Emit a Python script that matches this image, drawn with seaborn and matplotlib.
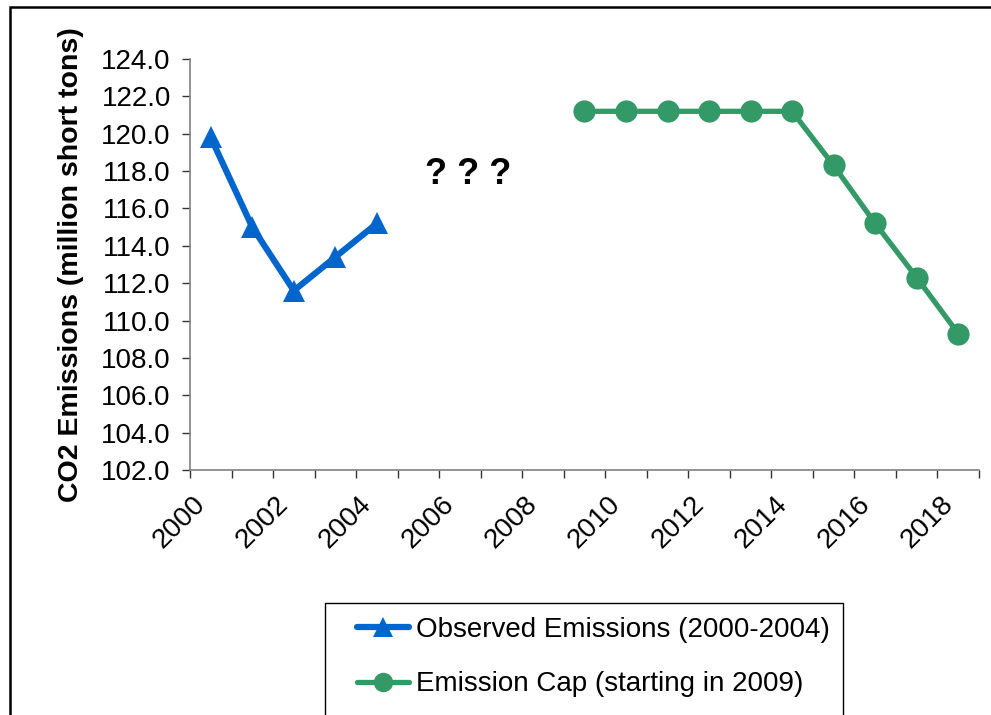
import matplotlib
matplotlib.use('Agg')
import matplotlib.pyplot as plt
import matplotlib.patches as mpatches
from matplotlib.ticker import FixedLocator, FormatStrFormatter
import numpy as np
import pandas as pd
import seaborn as sns

# data
observed_years = [2000, 2001, 2002, 2003, 2004]
observed_values = [119.8, 115.0, 111.6, 113.4, 115.2]
cap_years = [2009, 2010, 2011, 2012, 2013, 2014, 2015, 2016, 2017, 2018]
cap_values = [121.2, 121.2, 121.2, 121.2, 121.2, 121.2, 118.3, 115.2, 112.3, 109.3]
label_years = list(range(2000, 2019, 2))
y_ticks = list(np.arange(102, 124.1, 2))

observed_label = 'Observed Emissions (2000-2004)'
cap_label = 'Emission Cap (starting in 2009)'
blue = '#0066CC'
green = '#339966'

sns.set_theme(style='white')
plt.rcParams['font.family'] = ['Liberation Sans', 'DejaVu Sans']
plt.rcParams['text.color'] = 'black'
plt.rcParams['axes.labelcolor'] = 'black'
plt.rcParams['xtick.labelcolor'] = 'black'
plt.rcParams['ytick.labelcolor'] = 'black'

W, H = 991, 715
fig = plt.figure(figsize=(W / 100, H / 100), dpi=100)
ax = fig.add_axes([190 / W, 1 - 470 / H, (979 - 190) / W, (470 - 59) / H])

obs_df = pd.DataFrame({'year': observed_years, 'value': observed_values})
cap_df = pd.DataFrame({'year': cap_years, 'value': cap_values})

sns.lineplot(data=obs_df, x='year', y='value', ax=ax, color=blue, linewidth=4.5,
             marker='^', markersize=16, markeredgewidth=0, label=observed_label)
sns.lineplot(data=cap_df, x='year', y='value', ax=ax, color=green, linewidth=3.8,
             marker='o', markersize=16, markeredgewidth=0, label=cap_label)

ax.set_xlim(1999.5, 2018.5)
ax.set_ylim(102, 124)

# category labels at centres, tick marks at category boundaries
ax.xaxis.set_major_locator(FixedLocator(label_years))
ax.xaxis.set_minor_locator(FixedLocator(np.arange(1999.5, 2019, 1)))
ax.set_xticklabels([str(y) for y in label_years], rotation=45, ha='right', fontsize=20)
ax.tick_params(axis='x', which='major', length=0, pad=15)
ax.tick_params(axis='x', which='minor', bottom=True, length=5.8, width=1, color='#333333', direction='out')

ax.set_yticks(y_ticks)
ax.yaxis.set_major_formatter(FormatStrFormatter('%.1f'))
ax.tick_params(axis='y', left=True, length=5.8, width=1, color='#333333', direction='out', labelsize=20, pad=8)

for side in ['top', 'right']:
    ax.spines[side].set_visible(False)
for side in ['left', 'bottom']:
    ax.spines[side].set_color('#808080')
    ax.spines[side].set_linewidth(1.2)

ax.set_xlabel('')
ax.set_ylabel('CO2 Emissions (million short tons)', fontsize=20.5, fontweight='bold')
ax.yaxis.set_label_coords(-106 / (979 - 190), 0.5)

ax.text(2006.2, 117.8, '? ? ?', fontsize=26, fontweight='bold', ha='center', va='center')

# legend with own frame
leg = ax.legend(loc='upper left', bbox_to_anchor=(357 / W, 1 - 617 / H), bbox_transform=fig.transFigure,
                frameon=False, fontsize=20, handlelength=1.87, handletextpad=0.25,
                labelspacing=1.02, borderpad=0, borderaxespad=0)
for h in leg.legend_handles:
    h.set_markersize(14)

fig.patches.append(mpatches.Rectangle((325 / W, -0.01), (843 - 325) / W, (0.01 + 1 - 602.5 / H),
                                      transform=fig.transFigure, fill=False, edgecolor='black',
                                      linewidth=1, clip_on=False))
# outer chart border
fig.patches.append(mpatches.Rectangle((10 / W, -0.05), 1.2, (0.05 + 1 - 7 / H),
                                      transform=fig.transFigure, fill=False, edgecolor='black',
                                      linewidth=1.8, clip_on=False))

fig.savefig('out.png', dpi=100)
